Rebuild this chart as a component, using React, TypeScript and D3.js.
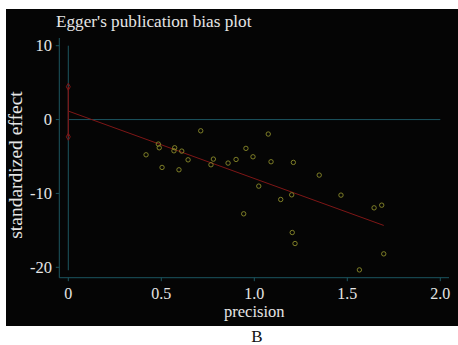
import React from "react";
import * as d3 from "d3";

const precision = [0.712, 0.484, 0.489, 0.418, 0.572, 0.568, 0.61, 0.644, 0.504, 0.595, 0.78, 0.767,
  1.075, 0.955, 0.859, 0.902, 0.993, 1.09, 1.21, 1.349, 1.024, 1.142, 1.201,
  1.466, 1.644, 1.685, 1.696, 1.565, 0.943, 1.204, 1.219];
const effect = [-1.52, -3.32, -3.82, -4.77, -3.82, -4.23, -4.27, -5.45, -6.48, -6.8, -5.35, -6.12,
  -1.96, -3.9, -5.89, -5.4, -5.04, -5.71, -5.8, -7.52, -9.01, -10.82, -10.19,
  -10.23, -11.95, -11.59, -18.18, -20.35, -12.76, -15.29, -16.78];
const xTicks = [0, 0.5, 1.0, 1.5, 2.0];
const xTickLabels = ["0", "0.5", "1.0", "1.5", "2.0"];
const yTicks = [10, 0, -10, -20];
const interceptCI = [-2.33, 4.44];
const intercept = 1.15;
const slope = -9.13;
const lineEnd = 1.696;

const W = 458, H = 345;
const font = "'Liberation Serif', 'Times New Roman', serif";
const axisCol = "#1c5560";
const textCol = "#e6e6e6";
const redCol = "#7e1616";

export default function App() {
  const x = d3.scaleLinear().domain([0, 2]).range([68.3, 440.3]);
  const y = d3.scaleLinear().domain([-20, 10]).range([267.3, 45.7]);
  const axX = 59.3, axY = 277.7;
  const line = d3.line<number>().x((d) => x(d)).y((d) => y(intercept + slope * d));
  const diamond = d3.symbol().type(d3.symbolDiamond).size(14)();
  return (
    <svg width={W} height={H} style={{ position: "absolute", left: 0, top: 0, background: "#fff" }}>
      <rect x={6} y={9} width={452} height={317} fill="#050505" />
      <text x={56} y={26.5} fill={textCol} fontFamily={font} fontSize={17.2}>Egger's publication bias plot</text>
      {/* axes */}
      <line x1={axX} x2={axX} y1={38} y2={axY} stroke={axisCol} strokeWidth={1} />
      <line x1={axX} x2={449} y1={axY} y2={axY} stroke={axisCol} strokeWidth={1} />
      {yTicks.map((t) => (
        <g key={t}>
          <line x1={axX - 3.5} x2={axX} y1={y(t)} y2={y(t)} stroke={axisCol} />
          <text x={52} y={y(t)} dy="0.35em" textAnchor="end" fill={textCol} fontFamily={font} fontSize={16.5}>{t}</text>
        </g>
      ))}
      {xTicks.map((t, i) => (
        <g key={t}>
          <line x1={x(t)} x2={x(t)} y1={axY} y2={axY + 3.5} stroke={axisCol} />
          <text x={x(t)} y={298.5} textAnchor="middle" fill={textCol} fontFamily={font} fontSize={16}>{xTickLabels[i]}</text>
        </g>
      ))}
      <text x={x(1)} y={317} textAnchor="middle" fill={textCol} fontFamily={font} fontSize={16.5}>precision</text>
      <text transform={`translate(22,165) rotate(-90)`} textAnchor="middle" fill={textCol} fontFamily={font} fontSize={19.5}>standardized effect</text>
      {/* reference lines */}
      <line x1={x(0)} x2={x(2)} y1={y(0)} y2={y(0)} stroke={axisCol} />
      <line x1={x(0)} x2={x(0)} y1={y(10)} y2={y(-20.4)} stroke={axisCol} />
      {/* regression line */}
      <path d={line([0, lineEnd]) || ""} fill="none" stroke={redCol} strokeWidth={1} />
      {/* intercept CI */}
      <line x1={x(0)} x2={x(0)} y1={y(interceptCI[0])} y2={y(interceptCI[1])} stroke={redCol} strokeWidth={1.2} />
      {interceptCI.map((v) => (
        <path key={v} d={diamond || ""} transform={`translate(${x(0)},${y(v)})`} fill="none" stroke={redCol} strokeWidth={1} />
      ))}
      {/* points */}
      {precision.map((p, i) => (
        <circle key={i} cx={x(p)} cy={y(effect[i])} r={2.2} fill="none" stroke="#8a8a2a" strokeWidth={0.9} />
      ))}
      <text x={257} y={342} textAnchor="middle" fill="#111" fontFamily={font} fontSize={17}>B</text>
    </svg>
  );
}
